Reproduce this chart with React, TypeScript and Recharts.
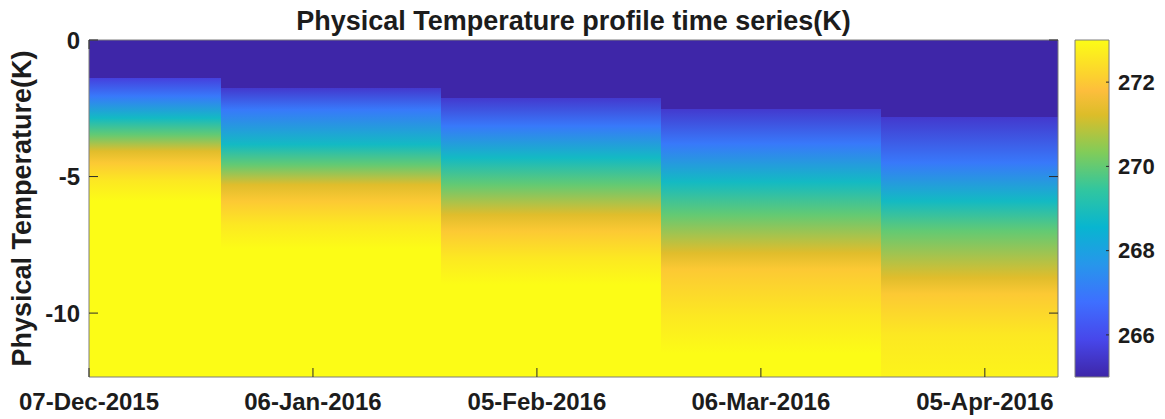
import React from 'react';
import { ComposedChart, XAxis, YAxis, ReferenceArea, Label } from 'recharts';

// ---- data ----
const tickDays = [0, 30, 60, 90, 120];
const tickLabels = ['07-Dec-2015', '06-Jan-2016', '05-Feb-2016', '06-Mar-2016', '05-Apr-2016'];
const depthTicks = [-10, -5, 0];
const colorTicks = [266, 268, 270, 272];

const xDomain: [number, number] = [0, 129.8];
const yDomain: [number, number] = [-12.34, 0];
const cDomain: [number, number] = [265, 273];

// profile cells (days since 07-Dec-2015)
const blockStart = [0, 17.7, 47.2, 76.6, 106.1];
const blockEnd = [17.7, 47.2, 76.6, 106.1, 129.8];
const airTemp = [264, 264, 264, 264, 264];

// depth (m below plot top) / temperature (K) per profile; first entry = snow surface
const depth1 = [1.39, 2.06, 2.86, 3.47, 4.07, 4.5, 5.16, 5.9, 12.34];
const temp1 = [265.7, 267.0, 268.8, 270.0, 271.3, 272.0, 272.6, 273.0, 273.0];
const depth2 = [1.76, 2.55, 3.83, 4.57, 5.3, 5.9, 6.76, 7.65, 12.34];
const temp2 = [265.5, 267.0, 268.8, 270.0, 271.3, 272.0, 272.6, 273.0, 273.0];
const depth3 = [2.12, 3.15, 4.32, 5.3, 6.4, 7.0, 7.98, 8.96, 12.34];
const temp3 = [265.5, 267.0, 268.8, 270.0, 271.3, 272.0, 272.6, 273.0, 273.0];
const depth4 = [2.52, 3.8, 5.2, 6.4, 7.8, 8.4, 10.1, 11.5, 12.34];
const temp4 = [265.5, 267.0, 268.8, 270.0, 271.3, 272.0, 272.6, 273.0, 273.0];
const depth5 = [2.83, 4.5, 5.9, 7.0, 8.7, 9.3, 10.8, 12.34];
const temp5 = [265.5, 267.0, 268.8, 270.0, 271.3, 272.0, 272.6, 272.85];

const profileDepths = [depth1, depth2, depth3, depth4, depth5];
const profileTemps = [temp1, temp2, temp3, temp4, temp5];

const blockData = blockStart.map((s, i) => ({ day: s, end: blockEnd[i] }));

// ---- colormap (parula) ----
const PARULA: number[][] = [
  [0, 62, 38, 168],
  [1 / 9, 71, 71, 235],
  [2 / 9, 62, 111, 255],
  [3 / 9, 39, 150, 235],
  [4 / 9, 8, 181, 208],
  [5 / 9, 49, 198, 159],
  [6 / 9, 129, 204, 89],
  [7 / 9, 220, 189, 41],
  [0.85, 253, 190, 60],
  [8 / 9, 252, 207, 48],
  [1, 252, 252, 22],
];

function cmapT(t: number): string {
  const tt = Math.min(1, Math.max(0, t));
  for (let i = 1; i < PARULA.length; i++) {
    if (tt <= PARULA[i][0]) {
      const a = PARULA[i - 1];
      const b = PARULA[i];
      const f = (tt - a[0]) / (b[0] - a[0]);
      const c = [1, 2, 3].map((k) => Math.round(a[k] + (b[k] - a[k]) * f));
      return `rgb(${c.join(',')})`;
    }
  }
  const l = PARULA[PARULA.length - 1];
  return `rgb(${l[1]},${l[2]},${l[3]})`;
}
function cmap(temp: number): string {
  return cmapT((temp - cDomain[0]) / (cDomain[1] - cDomain[0]));
}

// ---- styling ----
const FONT = "'Liberation Sans', Arial, Helvetica, sans-serif";
const TEXT = '#1c1c1c';
const TICK = '#2a2a2a';
const BOX = '#7c7c7c';
const TICK_LEN = 9;
const BOTTOM_MARGIN = 16;
const LEFT_MARGIN = 9;
const depthSpan = yDomain[1] - yDomain[0];

const BottomTick = (props: any) => {
  const { x, y, payload } = props;
  const axisY = y - BOTTOM_MARGIN;
  const idx = tickDays.indexOf(payload.value);
  return (
    <g>
      <line x1={x} x2={x} y1={axisY} y2={axisY - TICK_LEN} stroke={TICK} strokeWidth={1} />
      <text x={x} y={y} dy="0.71em" textAnchor="middle" fontFamily={FONT} fontWeight={700} fontSize={24} fill={TEXT}>
        {idx >= 0 ? tickLabels[idx] : ''}
      </text>
    </g>
  );
};

const TopTick = (props: any) => {
  const { x, y } = props;
  return <line x1={x} x2={x} y1={y} y2={y + TICK_LEN} stroke={TICK} strokeWidth={1} />;
};

const LeftTick = (props: any) => {
  const { x, y, payload } = props;
  const axisX = x + LEFT_MARGIN;
  return (
    <g>
      <line x1={axisX} x2={axisX + TICK_LEN} y1={y} y2={y} stroke={TICK} strokeWidth={1} />
      <text x={x} y={y} dy="0.355em" textAnchor="end" fontFamily={FONT} fontWeight={700} fontSize={24} fill={TEXT}>
        {String(payload.value)}
      </text>
    </g>
  );
};

const RightTick = (props: any) => {
  const { x, y } = props;
  return <line x1={x} x2={x - TICK_LEN} y1={y} y2={y} stroke={TICK} strokeWidth={1} />;
};

const CbarTick = (props: any) => {
  const { x, y, payload } = props;
  const axisX = x - 9;
  return (
    <g>
      <line x1={axisX} x2={axisX - 3} y1={y} y2={y} stroke={TICK} strokeWidth={1} />
      <text x={x} y={y} dy="0.355em" textAnchor="start" fontFamily={FONT} fontWeight={700} fontSize={22} fill={TEXT}>
        {String(payload.value)}
      </text>
    </g>
  );
};

const TitleContent = (p: any) => {
  const vb = p.viewBox || { x: 89, width: 969 };
  return (
    <text x={vb.x + vb.width / 2} y={29.5} textAnchor="middle" fontFamily={FONT} fontWeight={700} fontSize={27} fill={TEXT}>
      Physical Temperature profile time series(K)
    </text>
  );
};

const YLabelContent = (p: any) => {
  const vb = p.viewBox || { y: 40, height: 337 };
  const cx = 31;
  const cy = vb.y + vb.height / 2;
  return (
    <text x={cx} y={cy} transform={`rotate(-90 ${cx} ${cy})`} textAnchor="middle" fontFamily={FONT} fontWeight={700} fontSize={27} fill={TEXT}>
      Physical Temperature(K)
    </text>
  );
};

export default function App() {
  return (
    <div style={{ position: 'absolute', left: 0, top: 0, width: 1165, height: 419, background: '#fff' }}>
      <div style={{ position: 'absolute', left: 0, top: 0 }}>
        <ComposedChart width={1165} height={419} margin={{ top: 0, right: 97, bottom: 0, left: 0 }} data={blockData}>
          <defs>
            {profileDepths.map((ds, i) => (
              <linearGradient key={i} id={`blk${i}`} x1="0" y1="0" x2="0" y2="1">
                <stop offset={0} stopColor={cmap(airTemp[i])} />
                <stop offset={ds[0] / depthSpan} stopColor={cmap(airTemp[i])} />
                {ds.map((d, j) => (
                  <stop key={j} offset={d / depthSpan} stopColor={cmap(profileTemps[i][j])} />
                ))}
              </linearGradient>
            ))}
          </defs>
          {blockStart.map((s, i) => (
            <ReferenceArea
              key={i}
              x1={s}
              x2={blockEnd[i]}
              y1={yDomain[0]}
              y2={yDomain[1]}
              fill={`url(#blk${i})`}
              fillOpacity={1}
              stroke="none"
              shapeRendering="crispEdges"
              ifOverflow="visible"
            />
          ))}
          <ReferenceArea x1={xDomain[0]} x2={xDomain[1]} y1={yDomain[0]} y2={yDomain[1]} fill="none" stroke={BOX} strokeWidth={1} ifOverflow="visible" />
          <XAxis
            dataKey="day"
            type="number"
            domain={xDomain}
            ticks={tickDays}
            interval={0}
            height={42}
            tickSize={0}
            tickMargin={BOTTOM_MARGIN}
            axisLine={false}
            tickLine={false}
            tick={<BottomTick />}
            allowDataOverflow
          />
          <XAxis
            xAxisId="top"
            orientation="top"
            type="number"
            domain={xDomain}
            ticks={tickDays}
            interval={0}
            height={40}
            tickSize={0}
            tickMargin={0}
            axisLine={false}
            tickLine={false}
            tick={<TopTick />}
            allowDataOverflow
          >
            <Label content={TitleContent} />
          </XAxis>
          <YAxis
            type="number"
            domain={yDomain}
            ticks={depthTicks}
            interval={0}
            width={89}
            tickSize={0}
            tickMargin={LEFT_MARGIN}
            axisLine={false}
            tickLine={false}
            tick={<LeftTick />}
            allowDataOverflow
          >
            <Label content={YLabelContent} />
          </YAxis>
          <YAxis
            yAxisId="right"
            orientation="right"
            type="number"
            domain={yDomain}
            ticks={depthTicks}
            interval={0}
            width={10}
            tickSize={0}
            tickMargin={0}
            axisLine={false}
            tickLine={false}
            tick={<RightTick />}
            allowDataOverflow
          />
        </ComposedChart>
      </div>
      <div style={{ position: 'absolute', left: 1060, top: 0 }}>
        <ComposedChart width={105} height={419} margin={{ top: 40, right: 0, bottom: 42, left: 15 }} data={[{ v: 0 }, { v: 1 }]}>
          <defs>
            <linearGradient id="cbar" x1="0" y1="0" x2="0" y2="1">
              {PARULA.map((p, i) => (
                <stop key={i} offset={1 - p[0]} stopColor={`rgb(${p[1]},${p[2]},${p[3]})`} />
              )).reverse()}
            </linearGradient>
          </defs>
          <ReferenceArea x1={0} x2={1} y1={cDomain[0]} y2={cDomain[1]} fill="url(#cbar)" fillOpacity={1} stroke={BOX} strokeWidth={1} ifOverflow="visible" />
          <XAxis dataKey="v" type="number" domain={[0, 1]} hide />
          <YAxis
            orientation="right"
            type="number"
            domain={cDomain}
            ticks={colorTicks}
            interval={0}
            width={56}
            tickSize={0}
            tickMargin={9}
            axisLine={false}
            tickLine={false}
            tick={<CbarTick />}
            allowDataOverflow
          />
        </ComposedChart>
      </div>
    </div>
  );
}
